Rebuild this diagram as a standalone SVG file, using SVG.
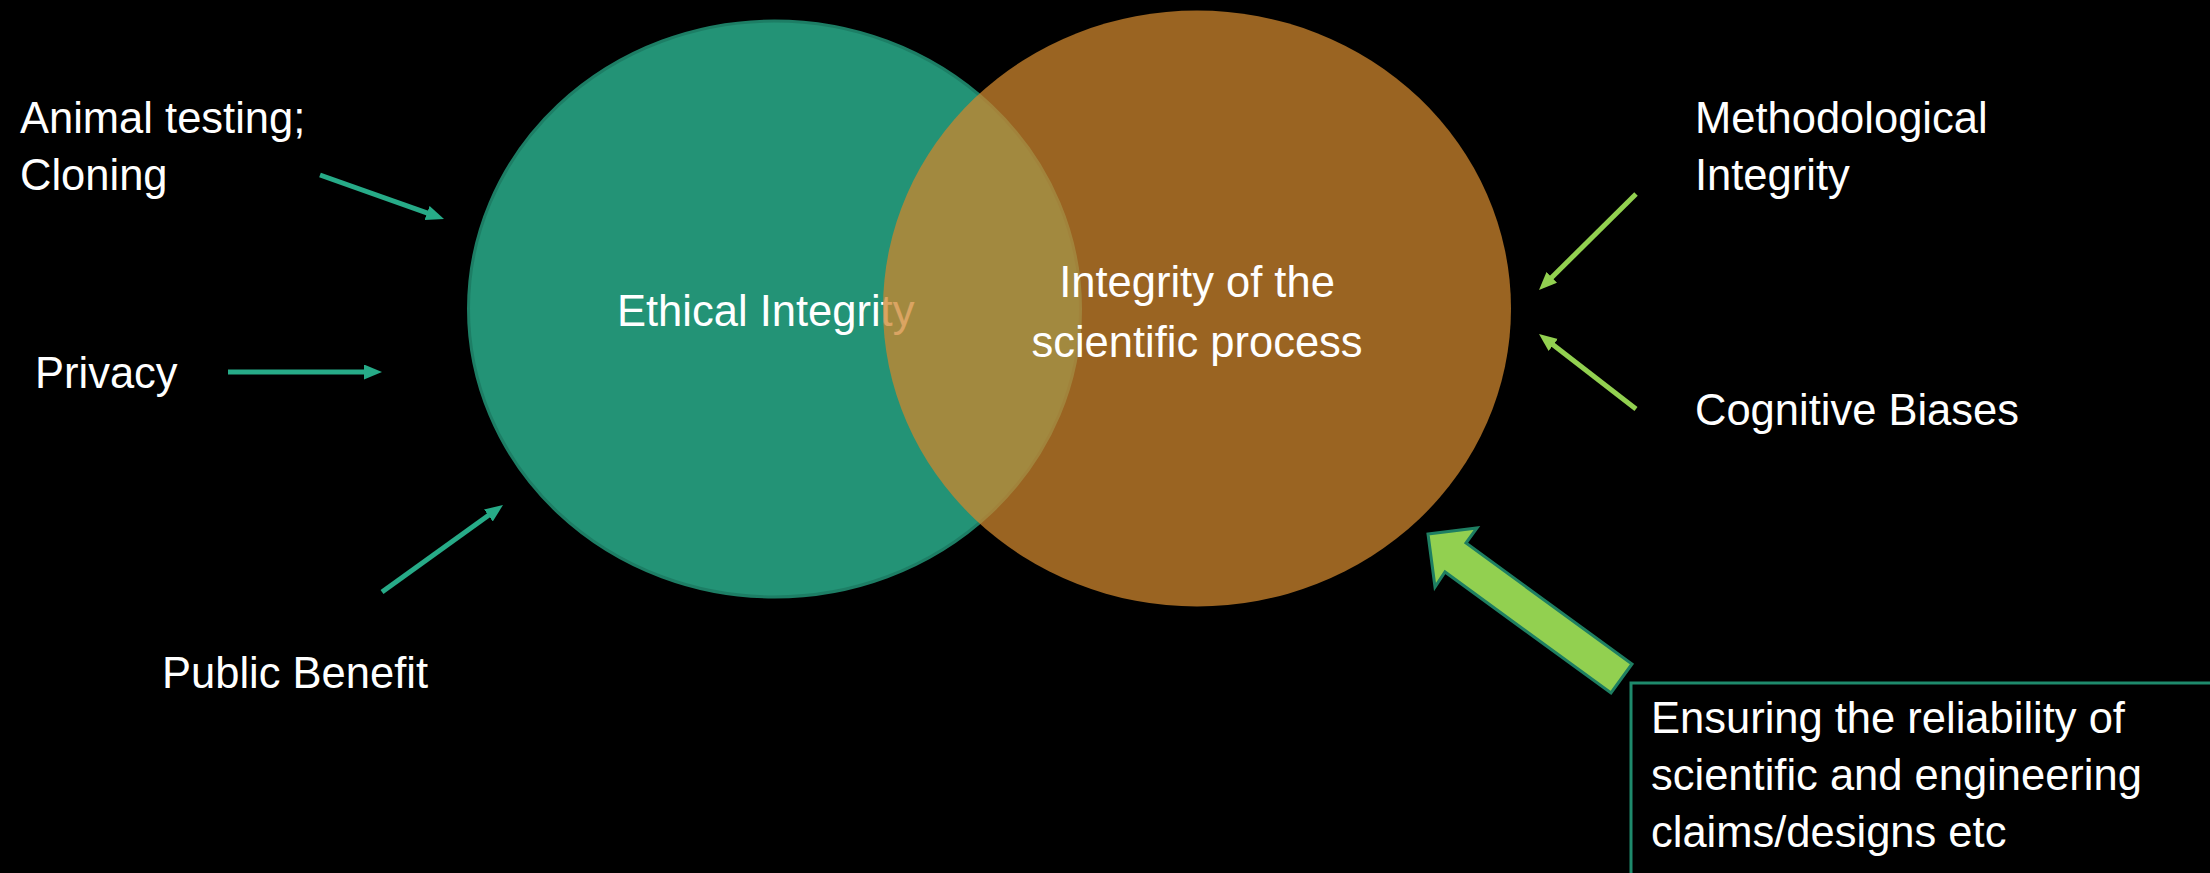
<svg xmlns="http://www.w3.org/2000/svg" width="2210" height="873" viewBox="0 0 2210 873">
<style>
  .t { font-family: "Liberation Sans", Arial, sans-serif; font-size: 43.5px; fill: #FFFFFF; }
  .mid { text-anchor: middle; }
  .teal { stroke: #27AB88; stroke-width: 5; fill: none; marker-end: url(#hTeal); }
  .lime { stroke: #92D050; stroke-width: 5; fill: none; marker-end: url(#hLime); }
</style>
<defs>
  <marker id="hTeal" markerUnits="userSpaceOnUse" markerWidth="20" markerHeight="16" refX="8" refY="7.5" orient="auto">
    <path d="M0,0 L18,7.5 L0,15 z" fill="#27AB88"/>
  </marker>
  <marker id="hLime" markerUnits="userSpaceOnUse" markerWidth="20" markerHeight="16" refX="8" refY="7.5" orient="auto">
    <path d="M0,0 L18,7.5 L0,15 z" fill="#92D050"/>
  </marker>
</defs>
<rect x="0" y="0" width="2210" height="873" fill="#000000"/>

<g id="ethical-integrity">
  <ellipse cx="774.5" cy="309" rx="306" ry="288" fill="#239376" stroke="#1D7E65" stroke-width="3"/>
  <text class="t" x="617" y="326">Ethical Integrity</text>
</g>

<g id="scientific-integrity">
  <ellipse cx="1197" cy="308.5" rx="314" ry="298" fill="#CD852D" fill-opacity="0.75"/>
  <text class="t mid" x="1197" y="297">Integrity of the</text>
  <text class="t mid" x="1197" y="357">scientific process</text>
</g>

<g id="animal-testing">
  <text class="t" x="20" y="133">Animal testing;</text>
  <text class="t" x="20" y="190">Cloning</text>
</g>
<g id="privacy">
  <text class="t" x="35" y="388">Privacy</text>
</g>
<g id="public-benefit">
  <text class="t" x="162" y="688">Public Benefit</text>
</g>
<g id="methodological-integrity">
  <text class="t" x="1695" y="133">Methodological</text>
  <text class="t" x="1695" y="190">Integrity</text>
</g>
<g id="cognitive-biases">
  <text class="t" x="1695" y="425">Cognitive Biases</text>
</g>
<g id="reliability-box">
  <rect x="1631" y="683" width="600" height="220" fill="#000000" stroke="#1E8A6C" stroke-width="3"/>
  <text class="t" x="1651" y="733">Ensuring the reliability of</text>
  <text class="t" x="1651" y="790">scientific and engineering</text>
  <text class="t" x="1651" y="847">claims/designs etc</text>
</g>

<g id="connectors">
  <line class="teal" x1="320" y1="175" x2="434.6" y2="215.7"/>
  <line class="teal" x1="228" y1="372" x2="372" y2="372"/>
  <line class="teal" x1="382" y1="592" x2="494.9" y2="510.8"/>
  <line class="lime" x1="1636" y1="194" x2="1546.1" y2="283"/>
  <line class="lime" x1="1636" y1="409" x2="1546.9" y2="340.1"/>
  <polygon points="1428,534 1477,528 1466,543 1632,664 1611,693 1445,572 1435,587" fill="#92D050" stroke="#1E7F62" stroke-width="3" stroke-linejoin="miter"/>
</g>
</svg>
